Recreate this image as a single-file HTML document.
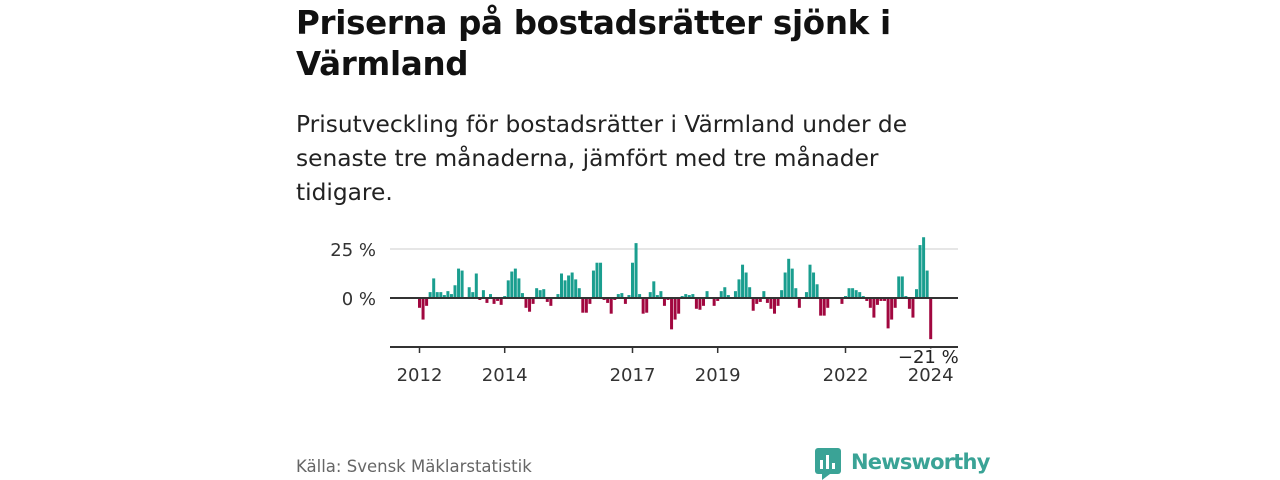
<!DOCTYPE html>
<html><head><meta charset="utf-8"><style>
body{margin:0;width:1280px;height:480px;background:#fff;font-family:"Liberation Sans","DejaVu Sans",sans-serif;overflow:hidden;position:relative}
h1{position:absolute;left:296px;top:3px;margin:0;font-size:32.5px;line-height:41px;font-weight:bold;color:#111;width:660px;font-family:"DejaVu Sans",sans-serif;letter-spacing:-0.3px}
.sub{position:absolute;left:296px;top:108px;margin:0;font-size:23.3px;line-height:34px;color:#222;width:660px;font-family:"DejaVu Sans",sans-serif}
.src{position:absolute;left:296px;top:457px;font-size:16.5px;color:#666;font-family:"DejaVu Sans",sans-serif}
svg{position:absolute;left:0;top:0}
</style></head><body>
<h1>Priserna på bostadsrätter sjönk i Värmland</h1>
<p class="sub">Prisutveckling för bostadsrätter i Värmland under de senaste tre månaderna, jämfört med tre månader tidigare.</p>
<div class="src">Källa: Svensk Mäklarstatistik</div>
<svg id="chart" width="1280" height="480"></svg>
<script>
const startYear = 2012;
const values = [-5,-11,-4,3,10,3,3,1.5,3.5,2,6.5,15,14,-0.5,5.5,3,12.5,-1,4,-2.5,2,-3,-1.5,-3.5,1,9,13.5,15,10,2.5,-5,-7,-3,5,4,4.5,-2,-4,0,2,12.5,9,11.5,13,9.5,5,-7.5,-7.5,-3,14,18,18,-1,-2.5,-8,-1,2,2.5,-3,1.5,18,28,2,-8,-7.5,3,8.5,1.5,3.5,-4,-1,-16,-11,-8,1,2,1.5,2,-5.5,-6,-4,3.5,0,-4,-1.5,3.5,5.5,1.5,0,3.5,9.5,17,13,5.5,-6.5,-3,-2,3.5,-2.5,-5.5,-8,-4,4,13,20,15,5,-5,0,3,17,13,7,-9,-9,-5,0.5,0,-0.5,-3,1,5,5,4,3,1,-1.5,-5,-10,-3.5,-1.5,-1.5,-15.5,-11,-5,11,11,1,-5.5,-10,4.5,27,31,14,-21];
const yTicks = [0,25];
const yTickLabels = ["0 %","25 %"];
const xTickYears = [2012,2014,2017,2019,2022,2024];
const NS="http://www.w3.org/2000/svg";
const svg=document.getElementById('chart');
const x0=419.5, mw=3.55;
function xs(i){return x0+mw*i;}
function xYear(y){return x0+(y-startYear)*12*mw;}
function ys(v){return 298-v*1.96;}
function el(t,a){const e=document.createElementNS(NS,t);for(const k in a)e.setAttribute(k,a[k]);svg.appendChild(e);return e;}
yTicks.forEach((t,i)=>{
  if(t!==0){const g=el('line',{x1:390,x2:958,y1:ys(t),y2:ys(t),stroke:'#ddd','stroke-width':1.5});
  
  }
  const tx=el('text',{x:376,y:ys(t)+7,'text-anchor':'end','font-size':18,fill:'#333','font-family':'DejaVu Sans,sans-serif'});
  tx.textContent=yTickLabels[i];
  
  
});
values.forEach((v,i)=>{
  const y=Math.min(ys(v),ys(0)),h=Math.abs(ys(v)-ys(0));
  const r=el('rect',{x:xs(i)-1.5,y:y,width:3,height:Math.max(h,0.01),fill:v>=0?'#1a9e8f':'#a1073f'});
  
  
});
const z=el('line',{x1:390,x2:958,y1:ys(0),y2:ys(0),stroke:'#333','stroke-width':2});


const ax=el('line',{x1:390,x2:958,y1:347,y2:347,stroke:'#333','stroke-width':2});


xTickYears.forEach(yr=>{
  const x=xYear(yr);
  const tk=el('line',{x1:x,x2:x,y1:347,y2:353,stroke:'#333','stroke-width':1.5});
  
  
  const t=el('text',{x:x,y:381,'text-anchor':'middle','font-size':18,fill:'#333','font-family':'DejaVu Sans,sans-serif'});
  t.textContent=yr;
  
  
});
const last=values.length-1;
const lb=el('text',{x:xs(last)+28,y:363,'text-anchor':'end','font-size':18,fill:'#222','font-family':'DejaVu Sans,sans-serif',stroke:'#fff','stroke-width':3,'paint-order':'stroke'});
lb.textContent='−'+Math.abs(values[last])+' %';


</script>
<svg width="1280" height="480">
<rect x="815" y="448" width="26" height="26" rx="3" fill="#3aa396"/>
<polygon points="822,474 830,474 822,480" fill="#3aa396"/>
<rect x="820" y="460" width="3" height="9" fill="#fff"/><rect x="826" y="455" width="3" height="14" fill="#fff"/><rect x="832" y="463" width="3" height="6" fill="#fff"/>
<text x="851" y="469" font-size="21" font-weight="bold" fill="#3aa396" font-family="DejaVu Sans,sans-serif" letter-spacing="-0.8">Newsworthy</text>
</svg>
</body></html>
